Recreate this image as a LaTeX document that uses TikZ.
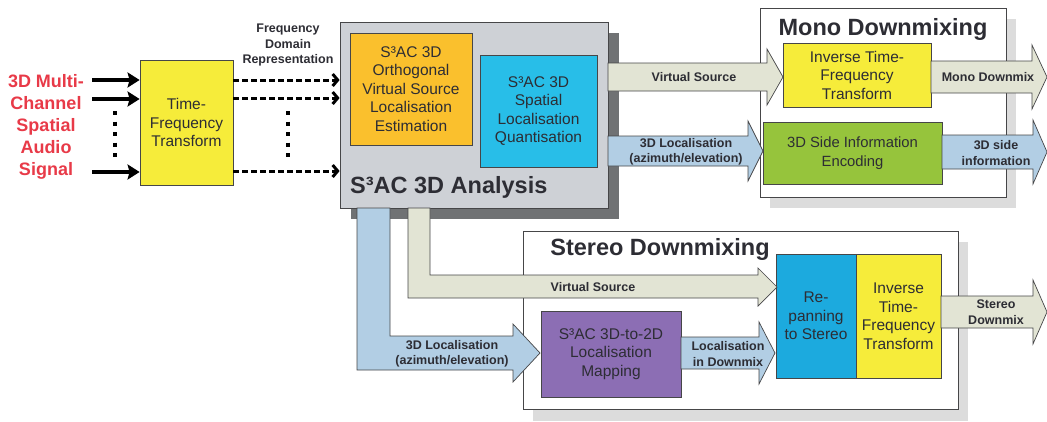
\documentclass[tikz,border=0pt]{standalone}
\usepackage{fontspec}
\setmainfont{Liberation Sans}
\usetikzlibrary{arrows.meta,calc}
\definecolor{tfyellow}{RGB}{246,236,58}
\definecolor{orangebox}{RGB}{250,192,45}
\definecolor{cyanbox}{RGB}{40,190,232}
\definecolor{greenbox}{RGB}{150,196,60}
\definecolor{purplebox}{RGB}{140,110,180}
\definecolor{panblue}{RGB}{28,170,222}
\definecolor{anagray}{RGB}{206,209,214}
\definecolor{darkshadow}{RGB}{112,114,116}
\definecolor{lightshadow}{RGB}{220,220,220}
\definecolor{beige}{RGB}{226,228,212}
\definecolor{lblue}{RGB}{178,206,228}
\definecolor{sigred}{RGB}{232,58,72}
\definecolor{txt}{RGB}{45,45,52}
\definecolor{edge}{RGB}{70,70,72}
\newcommand\fatarr[7]{% fill, x1, x2, yc, bodyhalf, headhalf, headlen
  \draw[fatline,fill=#1] (#2,{#4-#5}) -- ({#3-#7},{#4-#5}) -- ({#3-#7},{#4-#6}) -- (#3,#4)
   -- ({#3-#7},{#4+#6}) -- ({#3-#7},{#4+#5}) -- (#2,{#4+#5}) -- cycle;}
\begin{document}
\begin{tikzpicture}[x=1pt,y=-1pt,
  box/.style={draw=edge,line width=0.8pt,align=center,text=txt,inner sep=0pt,
     font=\fontsize{15.5}{18.5}\selectfont},
  frame/.style={draw=edge,line width=0.8pt,fill=white,inner sep=0pt},
  fatline/.style={draw=edge,line width=0.7pt,line join=miter},
  lab/.style={align=center,text=txt,font=\bfseries\fontsize{12.5}{15.5}\selectfont,inner sep=0pt},
  title/.style={text=txt,font=\bfseries\fontsize{23.5}{26}\selectfont,inner sep=0pt},
  inarrow/.style={line width=3.8pt,-{Stealth[length=12pt,width=15pt,inset=2pt]}},
  fdarrow/.style={line width=3pt,dash pattern=on 6pt off 3pt,
     -{Straight Barb[length=5pt,width=12pt,line width=3pt]}},
  vdots/.style={line width=4pt,dash pattern=on 4pt off 6.5pt}]
\useasboundingbox (0,0) rectangle (1047,421);

% shadows
\fill[darkshadow] (351,33) rectangle (619,219);
\fill[lightshadow] (770,19) rectangle (1016,208);
\fill[lightshadow] (533,242) rectangle (968,421);

% frames
\node[frame,fill=anagray,minimum width=268pt,minimum height=186pt] (ana) at (474,115) {};
\node[frame,minimum width=246pt,minimum height=189pt] (mono) at (883,102.5) {};
\node[frame,minimum width=435pt,minimum height=178pt] (stereo) at (740.5,320) {};

% titles
\node[title,anchor=base west] (anatitle) at (350,193) {S³AC 3D Analysis};
\node[title,anchor=base] (monotitle) at (883,35) {Mono Downmixing};
\node[title,anchor=base] (sttitle) at (660,255) {Stereo Downmixing};

% input side
\node[align=center,text=sigred,font=\bfseries\fontsize{18}{22}\selectfont,inner sep=0pt] (sig) at (46,127)
  {3D Multi-\\Channel\\Spatial\\Audio\\Signal};
\node[box,fill=tfyellow,minimum width=93pt,minimum height=125pt] (tf) at (186.5,122.5) {Time-\\Frequency\\Transform};
\node[lab] (fdr) at (288,45) {Frequency\\Domain\\Representation};

\coordinate (i1) at (92,80);
\coordinate (i2) at (92,99);
\coordinate (i3) at (92,172);
\draw[inarrow] (i1) -- (i1 -| tf.west);
\draw[inarrow] (i2) -- (i2 -| tf.west);
\draw[inarrow] (i3) -- (i3 -| tf.west);
\coordinate (d1a) at (115,111);
\coordinate (d1b) at (115,163);
\draw[vdots] (d1a) -- (d1b);

\coordinate (o1) at (233,80);
\coordinate (o2) at (233,98);
\coordinate (o3) at (233,171);
\draw[fdarrow] (o1) -- (o1 -| ana.west);
\draw[fdarrow] (o2) -- (o2 -| ana.west);
\draw[fdarrow] (o3) -- (o3 -| ana.west);
\coordinate (d2a) at (288,111);
\coordinate (d2b) at (288,163);
\draw[vdots] (d2a) -- (d2b);

% analysis inner boxes
\node[box,fill=orangebox,minimum width=122pt,minimum height=112pt] (est) at (411,89)
  {S³AC 3D\\Orthogonal\\Virtual Source\\Localisation\\Estimation};
\node[box,fill=cyanbox,minimum width=117pt,minimum height=112pt] (quant) at (538.5,111)
  {S³AC 3D\\Spatial\\Localisation\\Quantisation};

% mono boxes
\node[box,fill=tfyellow,minimum width=148pt,minimum height=64pt] (itfm) at (857,75)
  {Inverse Time-\\Frequency\\Transform};
\node[box,fill=greenbox,minimum width=179pt,minimum height=62pt,font=\fontsize{14.8}{19}\selectfont] (side) at (852.5,153)
  {3D Side Information\\Encoding};

% stereo boxes
\node[box,fill=panblue,minimum width=80pt,minimum height=124pt] (pan) at (816,316)
  {Re-\\panning\\to Stereo};
\node[box,fill=tfyellow,minimum width=85pt,minimum height=124pt] (itfs) at (898.5,316)
  {Inverse\\Time-\\Frequency\\Transform};
\node[box,fill=purplebox,minimum width=140pt,minimum height=86pt] (map) at (611,354)
  {S³AC 3D-to-2D\\Localisation\\Mapping};

% fat arrows (mono)
\fatarr{beige}{608}{783}{77}{14}{28}{16}
\node[lab] (vsm) at (694,77) {Virtual Source};
\fatarr{lblue}{608}{763}{151}{15}{30}{15}
\node[lab] (locm) at (686,152) {3D Localisation\\(azimuth/elevation)};
\fatarr{beige}{931}{1047}{77}{16}{32}{15}
\node[lab] (mdm) at (988,77) {Mono Downmix};
\fatarr{lblue}{942}{1047}{152}{17}{32}{14}
\node[lab] (sinfo) at (996,153) {3D side\\information};

% fat arrows (stereo)
\draw[fatline,fill=beige] (430,208) -- (430,275) -- (758,275) -- (758,268) -- (777,287)
  -- (758,306) -- (758,298) -- (408,298) -- (408,208) -- cycle;
\node[lab] (vss) at (593,287) {Virtual Source};
\draw[fatline,fill=lblue] (390,208) -- (390,336) -- (513,336) -- (513,324) -- (540,353)
  -- (513,382) -- (513,370) -- (357,370) -- (357,208) -- cycle;
\node[lab] (locs) at (452,354) {3D Localisation\\(azimuth/elevation)};
\fatarr{lblue}{681}{775}{353}{16}{31}{16}
\node[lab] (locd) at (728,354) {Localisation\\in Downmix};
\fatarr{beige}{941}{1047}{312}{16}{32}{14}
\node[lab] (sdm) at (996,312) {Stereo\\Downmix};
\end{tikzpicture}
\end{document}
